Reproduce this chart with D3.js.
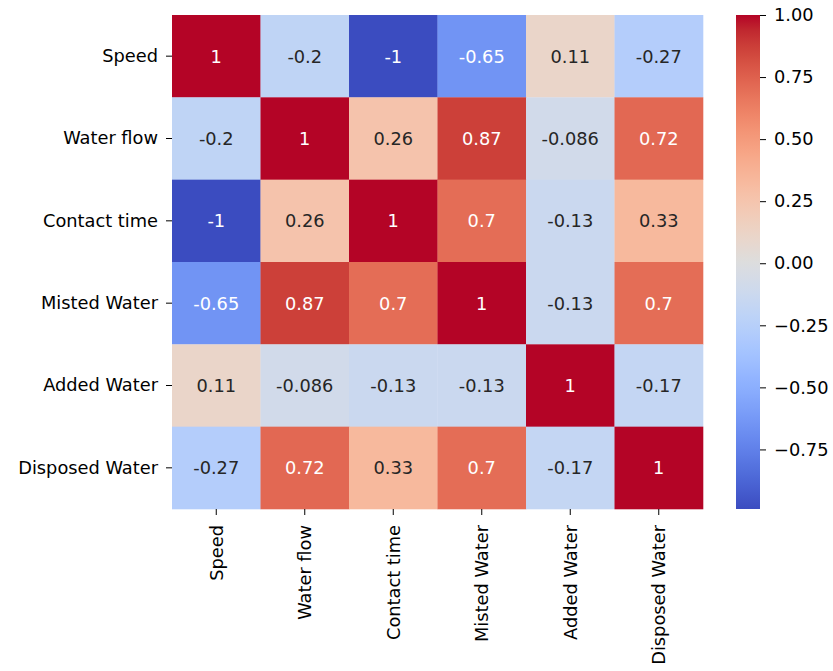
<!DOCTYPE html>
<html>
<head>
<meta charset="utf-8">
<script src="https://cdn.jsdelivr.net/npm/d3@7"></script>
<style>
  html, body { margin: 0; padding: 0; background: #fff; }
  svg { display: block; font-family: "DejaVu Sans", sans-serif; }
</style>
</head>
<body>
<svg id="chart" width="833" height="671"></svg>
<script>
// Variables of the correlation matrix
const variables = ["Speed", "Water flow", "Contact time", "Misted Water", "Added Water", "Disposed Water"];

// Correlation coefficients, one row per variable
const rowSpeed        = [1, -0.2, -1, -0.65, 0.11, -0.27];
const rowWaterFlow    = [-0.2, 1, 0.26, 0.87, -0.086, 0.72];
const rowContactTime  = [-1, 0.26, 1, 0.7, -0.13, 0.33];
const rowMistedWater  = [-0.65, 0.87, 0.7, 1, -0.13, 0.7];
const rowAddedWater   = [0.11, -0.086, -0.13, -0.13, 1, -0.17];
const rowDisposed     = [-0.27, 0.72, 0.33, 0.7, -0.17, 1];
const matrix = [rowSpeed, rowWaterFlow, rowContactTime, rowMistedWater, rowAddedWater, rowDisposed];

// Colour bar range and ticks
const colorMin = -0.99;
const colorMax = 1;
const colorbarTicks = [1.0, 0.75, 0.5, 0.25, 0.0, -0.25, -0.5, -0.75];

// Diverging cool-warm palette (33 control points)
const coolwarm = [
  [59,76,192],[68,90,204],[77,104,215],[87,117,225],[98,130,234],[108,142,241],
  [119,154,247],[130,165,251],[141,176,254],[152,185,255],[163,194,255],[174,201,253],
  [184,208,249],[194,213,244],[204,217,238],[213,219,230],[221,221,221],[229,216,209],
  [236,211,197],[241,204,185],[245,196,173],[247,187,160],[247,177,148],[247,166,135],
  [244,154,123],[241,141,111],[236,127,99],[229,112,88],[222,96,77],[213,80,66],
  [203,62,56],[192,40,47],[180,4,38]
].map(c => d3.rgb(c[0], c[1], c[2]).formatHex());

const paletteInterp = d3.piecewise(d3.interpolateRgb, coolwarm);
const color = d3.scaleSequential(paletteInterp).domain([colorMin, colorMax]).clamp(true);

// Layout
const plot = { left: 172, top: 15, width: 531, height: 494 };
const cbar = { left: 736, top: 15, width: 24, height: 494 };
const fontSize = 17.8;

const svg = d3.select("#chart");

const x = d3.scaleBand().domain(variables).range([plot.left, plot.left + plot.width]);
const y = d3.scaleBand().domain(variables).range([plot.top, plot.top + plot.height]);

// Text colour chosen from the cell's relative luminance
function luminance(c) {
  const rgb = d3.rgb(c);
  const lin = v => { v /= 255; return v <= 0.03928 ? v / 12.92 : Math.pow((v + 0.055) / 1.055, 2.4); };
  return 0.2126 * lin(rgb.r) + 0.7152 * lin(rgb.g) + 0.0722 * lin(rgb.b);
}

const cells = [];
matrix.forEach((row, i) => row.forEach((v, j) => cells.push({ row: variables[i], col: variables[j], value: v })));

const g = svg.append("g");
g.selectAll("rect.cell")
  .data(cells)
  .join("rect")
  .attr("class", "cell")
  .attr("x", d => x(d.col))
  .attr("y", d => y(d.row))
  .attr("width", x.bandwidth() + 0.3)
  .attr("height", y.bandwidth() + 0.3)
  .attr("fill", d => color(d.value));

// Cell annotations use a plain hyphen-minus
const annotLocale = d3.formatLocale({ decimal: ".", thousands: ",", grouping: [3], currency: ["", ""], minus: "-" });
const fmt = annotLocale.format(".2~g");
g.selectAll("text.annot")
  .data(cells)
  .join("text")
  .attr("class", "annot")
  .attr("x", d => x(d.col) + x.bandwidth() / 2)
  .attr("y", d => y(d.row) + y.bandwidth() / 2)
  .attr("text-anchor", "middle")
  .attr("dominant-baseline", "central")
  .attr("font-size", fontSize)
  .attr("fill", d => luminance(color(d.value)) > 0.408 ? "#262626" : "#ffffff")
  .text(d => fmt(d.value));

// Axes
const tickLen = 6, tickPad = 8;
const yAxis = d3.axisLeft(y).tickSize(tickLen).tickPadding(tickPad);
const yG = svg.append("g").attr("transform", `translate(${plot.left},0)`).call(yAxis);
yG.select(".domain").remove();
yG.selectAll("text").attr("font-size", fontSize).attr("fill", "#000").attr("font-family", "DejaVu Sans");
yG.selectAll("line").attr("stroke", "#000").attr("stroke-width", 1);

const xAxis = d3.axisBottom(x).tickSize(tickLen).tickPadding(tickPad);
const xG = svg.append("g").attr("transform", `translate(0,${plot.top + plot.height})`).call(xAxis);
xG.select(".domain").remove();
xG.selectAll("line").attr("stroke", "#000").attr("stroke-width", 1);
xG.selectAll("text")
  .attr("font-size", fontSize)
  .attr("fill", "#000")
  .attr("font-family", "DejaVu Sans")
  .attr("x", null).attr("y", null).attr("dy", null)
  .attr("text-anchor", "end")
  .attr("dominant-baseline", "central")
  .attr("transform", `translate(0,${tickLen + tickPad + 2}) rotate(-90)`);

// Colour bar
const defs = svg.append("defs");
const grad = defs.append("linearGradient")
  .attr("id", "cbarGrad")
  .attr("x1", 0).attr("y1", 1).attr("x2", 0).attr("y2", 0);
d3.range(0, 1.0001, 1 / 64).forEach(t => {
  grad.append("stop")
    .attr("offset", t)
    .attr("stop-color", color(colorMin + t * (colorMax - colorMin)));
});
svg.append("rect")
  .attr("x", cbar.left).attr("y", cbar.top)
  .attr("width", cbar.width).attr("height", cbar.height)
  .attr("fill", "url(#cbarGrad)");

const cy = d3.scaleLinear().domain([colorMin, colorMax]).range([cbar.top + cbar.height, cbar.top]);
const cAxis = d3.axisRight(cy)
  .tickValues(colorbarTicks)
  .tickSize(tickLen).tickPadding(tickPad)
  .tickFormat(d3.format(".2f"));
const cG = svg.append("g").attr("transform", `translate(${cbar.left + cbar.width},0)`).call(cAxis);
cG.select(".domain").remove();
cG.selectAll("line").attr("stroke", "#000").attr("stroke-width", 1);
cG.selectAll("text").attr("font-size", fontSize).attr("fill", "#000").attr("font-family", "DejaVu Sans");
</script>
</body>
</html>
